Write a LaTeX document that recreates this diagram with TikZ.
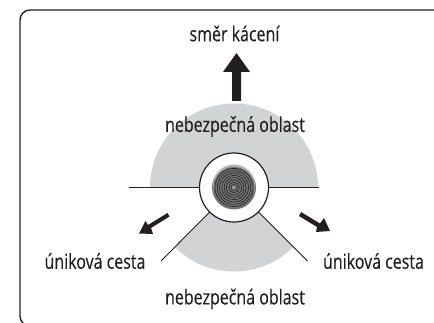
\documentclass[tikz,border=0pt]{standalone}
\usepackage{fontspec}
\setmainfont[FakeStretch=0.78,FakeBold=0.25]{Open Sans}
\definecolor{zone}{RGB}{209,211,212}
\definecolor{ink}{RGB}{35,31,32}
\tikzset{
  lbl/.style={font=\fontsize{20.5}{24}\selectfont, text=ink, inner sep=0pt, anchor=center},
  boundary/.style={draw=ink, line width=1.1pt},
  ring/.style={draw=ink, line width=0.6pt, fill=none},
  bigarrow/.style={fill=ink, draw=none}
}
\begin{document}
\begin{tikzpicture}[x=1pt,y=-1pt]
\useasboundingbox (0,0) rectangle (434,323);
\fill[white] (0,0) rectangle (434,323);
\coordinate (c) at (234,187.5);
% grey zones
\fill[zone] (c) ++(-84,0) arc[start angle=180,end angle=0,radius=84,y radius=-84] -- cycle;
\fill[zone] (c) -- ++(-59.4,59.4) arc[x radius=84,y radius=-84,start angle=225,end angle=315] -- cycle;
% frame
\draw[line width=1.4pt,draw=ink] (434,10) -- (30,10) arc[start angle=90,end angle=180,radius=10,y radius=-10] -- (20,316) .. controls (20,319) and (21,321) .. (23,323);
% boundaries
\coordinate (hl) at (129,187.5);
\coordinate (hr) at (319,187.5);
\coordinate (dl) at (161,261);
\coordinate (dr) at (307.5,261);
\draw[boundary] (hl) -- (hr);
\draw[boundary,line width=0.9pt] (c) -- (dl);
\draw[boundary,line width=0.9pt] (c) -- (dr);
% stump
\node[circle,draw=ink,fill=white,line width=1.2pt,minimum size=69pt,inner sep=0pt] (stump) at (c) {};
\fill[black!55] (c) circle[radius=22];
\fill[black!30] (234,185.5) circle[radius=21];
\fill[black!55] (c) circle[radius=20.5];
\foreach \r in {3,5.3,...,21} \draw[ring] (c) circle[radius=\r];
\fill[black!40] (c) circle[radius=2];
% arrows
\fill[bigarrow] (232,101) -- (241,101) -- (241,72) -- (250,72) -- (236.5,53) -- (223,72) -- (232,72) -- cycle;
\fill[bigarrow] (167.5,213) -- (169.5,216.5) -- (151,228) -- (153,234) -- (139,233.5) -- (145.5,221) -- (148,225) -- cycle;
\fill[bigarrow] (301,212) -- (299,216) -- (317,227) -- (316,232) -- (330,231) -- (324,218) -- (320,223.5) -- cycle;
% labels
\node[lbl] (a) at (234.5,33.5) {směr kácení};
\node[lbl] (b) at (235,126.5) {nebezpečná oblast};
\node[lbl] (d) at (95,261) {úniková cesta};
\node[lbl] (e) at (373.5,261) {úniková cesta};
\node[lbl] (f) at (235,299) {nebezpečná oblast};
\end{tikzpicture}
\end{document}
